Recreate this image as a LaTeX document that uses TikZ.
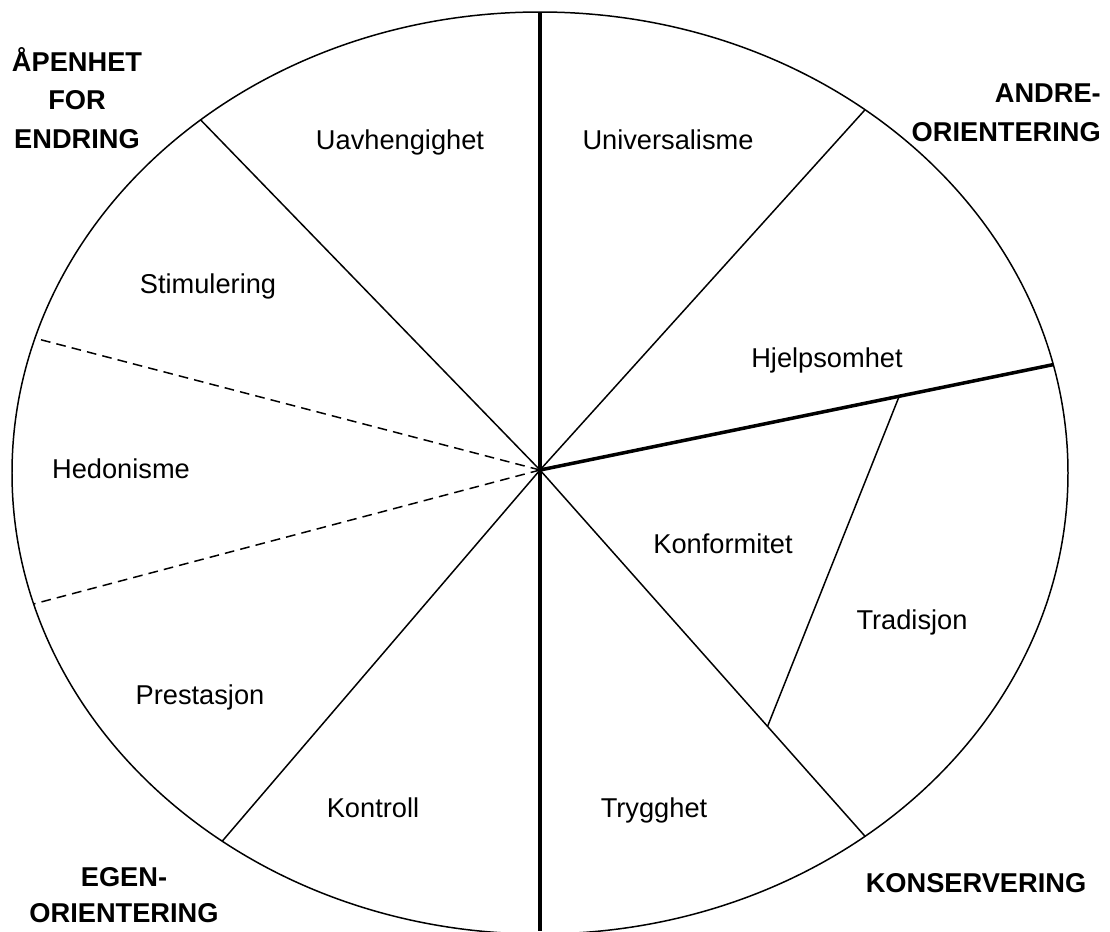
\documentclass[tikz,border=0pt]{standalone}
\usepackage{fontspec}
\setmainfont{Liberation Sans}
\usetikzlibrary{calc}
\begin{document}
\begin{tikzpicture}[x=0.02cm, y=-0.02cm,
    verdi/.style={anchor=base, font=\fontsize{15.5}{22}\selectfont},
    akse/.style={align=center, font=\fontsize{15.5}{22}\selectfont\bfseries},
    tynn/.style={line width=0.85pt},
    tykk/.style={line width=2pt},
    stiplet/.style={line width=0.85pt, dash pattern=on 5.5pt off 3.5pt}]
    \def\cx{540}
    \def\cy{473}
    \def\rx{528}
    \def\ry{461}
    \useasboundingbox (0, 0) rectangle (1110, 931);
    \draw[tynn] (\cx, \cy) ellipse [x radius=\rx, y radius=\ry];
    \coordinate (hub) at (540, 470);
    \coordinate (bunn) at (540, 931);
    \foreach \navn/\t in {topp/90, ur/52, ul/130, ll/233, lr/308, hr/13.6, du/163, dl/196.5}
        \coordinate (\navn) at ({\cx + \rx*cos(\t)}, {\cy - \ry*sin(\t)});
    \draw[tykk] (topp) -- (bunn);
    \draw[tykk] (hub) -- (hr);
    \draw[tynn] (hub) -- (ur);
    \draw[tynn] (hub) -- (ul);
    \draw[tynn] (hub) -- (ll);
    \draw[tynn] (hub) -- (lr);
    \draw[stiplet] (hub) -- (du);
    \draw[stiplet] (hub) -- (dl);
    \draw[tynn] ($(hub)!0.7!(hr)$) -- ($(hub)!0.7!(lr)$);
    % verdiene
    \node[verdi] (uavh) at (400, 149) {Uavhengighet};
    \node[verdi] (univ) at (668, 149) {Universalisme};
    \node[verdi] (stim) at (208, 293) {Stimulering};
    \node[verdi] (hjelp) at (827, 367) {Hjelpsomhet};
    \node[verdi] (hedo) at (121, 478) {Hedonisme};
    \node[verdi] (konf) at (723, 553) {Konformitet};
    \node[verdi] (trad) at (912, 629) {Tradisjon};
    \node[verdi] (pres) at (200, 704) {Prestasjon};
    \node[verdi] (kontr) at (373, 817) {Kontroll};
    \node[verdi] (trygg) at (654, 817) {Trygghet};
    % aksene
    \node[akse] (apen) at (77, 98) {ÅPENHET\\FOR\\ENDRING};
    \node[akse, anchor=east, align=right] (andre) at (1107, 113) {ANDRE-\\ORIENTERING};
    \node[akse, font=\fontsize{15.5}{20.5}\selectfont\bfseries] (egen) at (124, 895) {EGEN-\\ORIENTERING};
    \node[akse, anchor=base] (kons) at (976, 892) {KONSERVERING};
\end{tikzpicture}
\end{document}
